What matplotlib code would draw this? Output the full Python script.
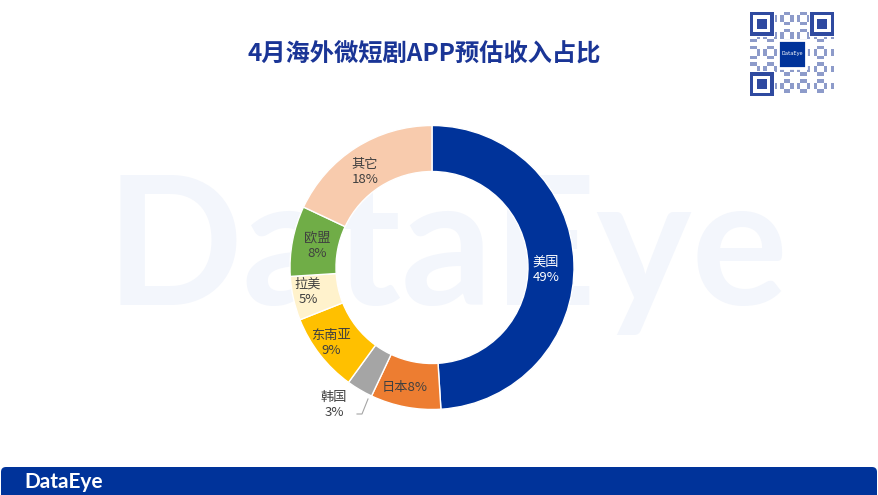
import numpy as np
import matplotlib.pyplot as plt
from matplotlib.patches import FancyBboxPatch, Rectangle

plt.rcParams['font.family'] = ['Noto Sans CJK SC', 'DejaVu Sans']

title = "4月海外微短剧APP预估收入占比"
regions = ["美国", "日本", "韩国", "东南亚", "拉美", "欧盟", "其它"]
shares = [49, 8, 3, 9, 5, 8, 18]
colors = ["#00339A", "#ED7D31", "#A5A5A5", "#FFC000", "#FFF2CC", "#70AD47", "#F8CBAD"]

W, H = 879, 495
fig = plt.figure(figsize=(W / 100, H / 100), dpi=100)
ax = fig.add_axes([0, 0, 1, 1])

# watermark
ax.text(447, H - 305, "DataEye", fontsize=130, family='Lato', fontweight='bold',
        color="#F3F6FC", ha='center', va='baseline', zorder=0)

# donut
cx, cy, r = 432, H - 267.5, 142
wedges, _ = ax.pie(shares, colors=colors, startangle=90, counterclock=False,
                   center=(cx, cy), radius=r, frame=True,
                   wedgeprops=dict(width=46, edgecolor='white', linewidth=1))
ax.set_xlim(0, W)
ax.set_ylim(0, H)
ax.set_aspect('equal')
ax.axis('off')

# labels
lab_pos = {
    "美国": (546, 270), "日本": (405, 387), "东南亚": (331, 343),
    "拉美": (308, 292), "欧盟": (317, 246), "其它": (365, 172),
}
for name, val, col in zip(regions, shares, colors):
    if name == "韩国":
        continue
    x, y = lab_pos[name]
    tc = 'white' if name == "美国" else '#404040'
    txt = f"{name}{val}%" if name == "日本" else f"{name}\n{val}%"
    ax.text(x, H - y, txt, fontsize=9.5, color=tc, ha='center', va='center',
            linespacing=1.25)

# 韩国 outside with leader line
ax.plot([357, 362, 368], [H - 414, H - 414, H - 399], color='#A5A5A5', lw=0.8)
ax.text(334, H - 405, "韩国\n3%", fontsize=9.5, color='#404040',
        ha='center', va='center', linespacing=1.25)

# title
ax.text(424, H - 55, title, fontsize=17.5, fontweight='bold', color='#1A3596',
        ha='center', va='center')

# bottom bar
bar = FancyBboxPatch((1, -10), W - 3, 38, boxstyle="round,pad=0,rounding_size=5",
                     fc='#00339A', ec='none', zorder=3)
ax.add_patch(bar)
ax.text(24, H - 482, "DataEye", fontsize=15, family='Lato', fontweight='bold',
        color='white', ha='left', va='center', zorder=4)

# QR code stand-in
qx0, qy0, qs = 750, 12, 84
n = 25
m = qs / n
ax.add_patch(Rectangle((qx0, H - qy0 - qs), qs, qs, fc='white', ec='none', zorder=2))
for i in range(n):
    for j in range(n):
        if ((i * 7 + j * 11 + i * j) % 5) < 2:
            ax.add_patch(Rectangle((qx0 + j * m, H - qy0 - (i + 1) * m), m, m,
                                   fc='#2F4AA0', ec='none', alpha=0.55, zorder=3))
for fx, fy in [(0, 0), (n - 7, 0), (0, n - 7)]:
    x0 = qx0 + fx * m
    y0 = H - qy0 - (fy + 7) * m
    ax.add_patch(Rectangle((x0 - m * 0.5, y0 - m * 0.5), 8 * m, 8 * m, fc='white', ec='none', zorder=4))
    ax.add_patch(Rectangle((x0, y0), 7 * m, 7 * m, fc='#2F4AA0', ec='none', zorder=4))
    ax.add_patch(Rectangle((x0 + m, y0 + m), 5 * m, 5 * m, fc='white', ec='none', zorder=4))
    ax.add_patch(Rectangle((x0 + 2 * m, y0 + 2 * m), 3 * m, 3 * m, fc='#2F4AA0', ec='none', zorder=4))
ax.add_patch(Rectangle((qx0 + qs / 2 - 14, H - qy0 - qs / 2 - 14), 28, 28,
                       fc='#00339A', ec='white', lw=2, zorder=5))
ax.text(qx0 + qs / 2, H - qy0 - qs / 2, "DataEye", fontsize=4, color='white',
        ha='center', va='center', zorder=6)

fig.savefig("out.png", dpi=100)
